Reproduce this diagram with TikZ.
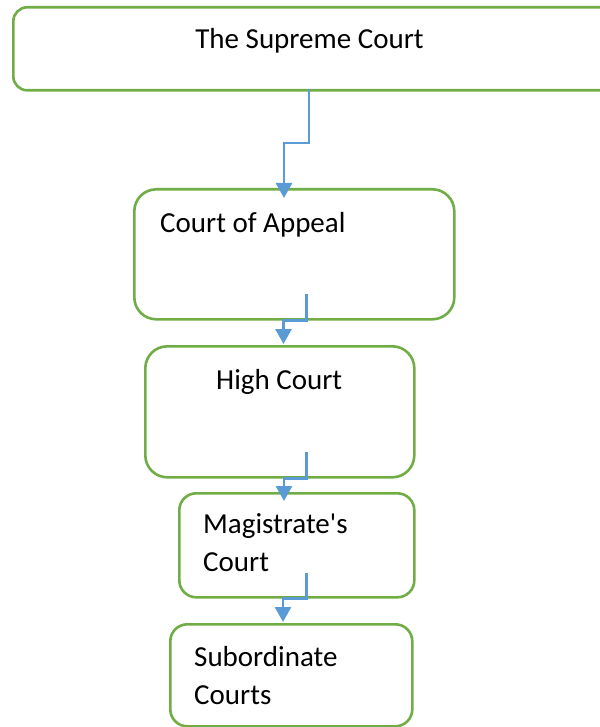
\documentclass[tikz,border=0pt]{standalone}
\usepackage{fontspec}
\setmainfont{Carlito}[Ligatures=TeXOff]
\usetikzlibrary{arrows.meta}
\definecolor{boxgreen}{HTML}{70AD47}
\definecolor{linkblue}{HTML}{5B9BD5}

\begin{document}
\begin{tikzpicture}[x=1pt, y=-1pt,
court/.style={rectangle, draw=boxgreen, line width=2.6pt, anchor=north west, inner sep=0pt},
court-big/.style={court, rounded corners=22pt},
court-small/.style={court, rounded corners=17pt},
court-text/.style={inner sep=0pt, font=\fontsize{29}{38}\selectfont, align=left},
line/.style={draw=linkblue, line width=2.6pt, -{Triangle[width=16pt, length=15pt]}}
]
\useasboundingbox (0,0) rectangle (599,727);

\node [court, rounded corners=14pt, minimum width=620pt, minimum height=83pt] (supreme) at (12,6) {};
\node [court-big, minimum width=320pt, minimum height=130pt] (appeal) at (133,188) {};
\node [court-big, minimum width=269pt, minimum height=131pt] (high) at (144,345) {};
\node [court-small, minimum width=235pt, minimum height=104pt] (magistrate) at (178,492) {};
\node [court-small, minimum width=242pt, minimum height=102pt] (subordinate) at (169,623) {};

\node [court-text, anchor=base] (supreme-text) at (309.5,49) {The Supreme Court};
\node [court-text, anchor=base west] (appeal-text) at (160,233) {Court of Appeal};
\node [court-text, anchor=base west] (high-text) at (216,389) {High Court};
\node [court-text, anchor=base west] (magistrate-text) at (203,571) {Magistrate's\\Court};
\node [court-text, anchor=base west] (subordinate-text) at (194,704) {Subordinate\\Courts};

\coordinate (supreme-out) at (309,89);
\coordinate (appeal-in) at (284,198);
\coordinate (appeal-out) at (306.5,294);
\coordinate (high-in) at (283.5,344);
\coordinate (high-out) at (306.5,452);
\coordinate (magistrate-in) at (284,501);
\coordinate (magistrate-out) at (306.5,573);
\coordinate (subordinate-in) at (283,622);

\path [line] (supreme-out) -- ++(0,54) -| (appeal-in);
\path [line] (appeal-out) -- (appeal-out |- appeal.south) -| (high-in);
\path [line] (high-out) -- (high-out |- high.south) -| (magistrate-in);
\path [line] (magistrate-out) -- (magistrate-out |- magistrate.south) -| (subordinate-in);

\end{tikzpicture}
\end{document}
